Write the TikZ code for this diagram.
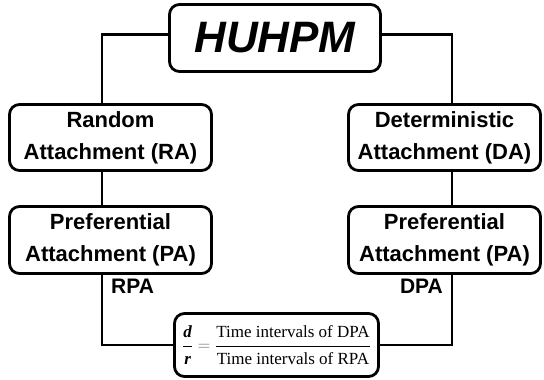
\documentclass[tikz,border=0pt]{standalone}
\usepackage{fontspec}
\setmainfont{Liberation Sans}
\newfontfamily\tnr{Liberation Serif}
\begin{document}
\begin{tikzpicture}[x=1pt,y=-1pt,
  box/.style={draw=black,line width=2.8pt,rounded corners=10pt,fill=white,align=center,inner sep=0pt,
    font=\bfseries\fontsize{22}{32}\selectfont},
  conn/.style={line width=2.8pt,line cap=rect},
  lab/.style={font=\bfseries\fontsize{21}{24}\selectfont,inner sep=0pt}]
\useasboundingbox (0,0) rectangle (544,380);
\coordinate (lx) at (102,0);
\coordinate (rx) at (452,0);
\node[box,minimum width=211pt,minimum height=67pt,font=\bfseries\itshape\fontsize{44}{48}\selectfont] (hu) at (275,38) {HUHPM};
\node[box,minimum width=202pt,minimum height=66pt] (ra) at (110.5,137.5) {Random\\Attachment (RA)};
\node[box,minimum width=202pt,minimum height=67pt] (pa1) at (110.5,240) {Preferential\\Attachment (PA)};
\node[box,minimum width=192pt,minimum height=66pt] (da) at (444.5,137.5) {Deterministic\\Attachment (DA)};
\node[box,minimum width=192pt,minimum height=67pt] (pa2) at (444.5,240) {Preferential\\Attachment (PA)};
\node[box,minimum width=204pt,minimum height=63pt,font=\tnr\fontsize{17}{20}\selectfont] (bt) at (276.5,345)
  {$\displaystyle\frac{\mbox{\rule[-7pt]{0pt}{7pt}\tnr\bfseries\itshape d}}{\mbox{\rule{0pt}{17pt}\tnr\bfseries\itshape r}}\;{\color{black!60}=}\;\frac{\mbox{\rule[-7pt]{0pt}{7pt}Time intervals of DPA}}{\mbox{\rule{0pt}{17pt}Time intervals of RPA}}$};
\draw[conn] ([yshift=3.5pt]hu.west) -| (ra.north -| lx);
\draw[conn] ([yshift=3.5pt]hu.east) -| (da.north -| rx);
\draw[conn] (ra.south -| lx) -- (pa1.north -| lx);
\draw[conn] (da.south -| rx) -- (pa2.north -| rx);
\draw[conn] (pa1.south -| lx) |- (bt.west);
\draw[conn] (pa2.south -| rx) |- (bt.east);
\node[lab,anchor=base west] (rpa) at (111,293) {RPA};
\node[lab,anchor=base east] (dpa) at (443,293) {DPA};
\end{tikzpicture}
\end{document}
